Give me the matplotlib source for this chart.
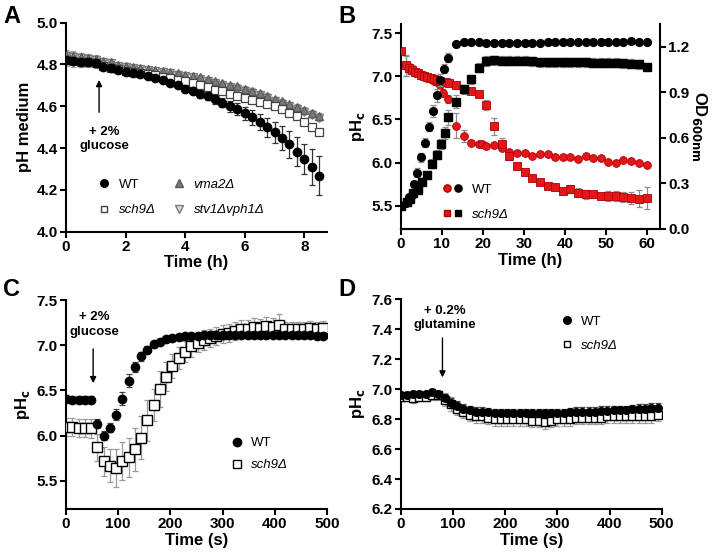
import numpy as np
import matplotlib.pyplot as plt
from matplotlib.legend_handler import HandlerTuple

plt.rcParams['font.family'] = ['Liberation Sans', 'DejaVu Sans']
plt.rcParams['font.weight'] = 'bold'
plt.rcParams['axes.linewidth'] = 1.5

# ---- panel A: medium pH (h) ----
tA = [0, 0.25, 0.5, 0.75, 1.0, 1.25, 1.5, 1.75, 2.0, 2.25, 2.5, 2.75, 3.0, 3.25, 3.5, 3.75, 4.0,
      4.25, 4.5, 4.75, 5.0, 5.25, 5.5, 5.75, 6.0, 6.25, 6.5, 6.75, 7.0, 7.25, 7.5, 7.75, 8.0, 8.25, 8.5]
wtA = [4.82, 4.815, 4.81, 4.81, 4.805, 4.79, 4.785, 4.775, 4.765, 4.76, 4.755, 4.745, 4.735, 4.725,
       4.71, 4.70, 4.685, 4.675, 4.66, 4.648, 4.633, 4.617, 4.60, 4.587, 4.566, 4.547, 4.525, 4.50,
       4.475, 4.45, 4.418, 4.383, 4.35, 4.31, 4.268]
wtA_err = [0.01, 0.01, 0.01, 0.01, 0.01, 0.01, 0.01, 0.01, 0.01, 0.01, 0.01, 0.01, 0.01, 0.012,
           0.012, 0.013, 0.015, 0.016, 0.018, 0.019, 0.02, 0.022, 0.025, 0.028, 0.03, 0.035, 0.04,
           0.045, 0.05, 0.057, 0.065, 0.07, 0.072, 0.085, 0.092]
schA = [4.82, 4.815, 4.81, 4.81, 4.805, 4.795, 4.785, 4.78, 4.77, 4.765, 4.76, 4.755, 4.75, 4.74,
        4.735, 4.728, 4.72, 4.71, 4.70, 4.69, 4.68, 4.672, 4.66, 4.65, 4.64, 4.63, 4.62, 4.61,
        4.60, 4.587, 4.57, 4.554, 4.526, 4.50, 4.478]
vmaA = [4.845, 4.84, 4.835, 4.83, 4.825, 4.815, 4.81, 4.80, 4.795, 4.79, 4.785, 4.78, 4.775, 4.77,
        4.765, 4.758, 4.75, 4.745, 4.738, 4.73, 4.72, 4.712, 4.703, 4.695, 4.685, 4.674, 4.663,
        4.65, 4.634, 4.623, 4.61, 4.598, 4.583, 4.567, 4.555]
stvA = [4.84, 4.835, 4.83, 4.825, 4.82, 4.81, 4.805, 4.795, 4.79, 4.785, 4.78, 4.775, 4.77, 4.765,
        4.76, 4.752, 4.745, 4.738, 4.73, 4.722, 4.712, 4.703, 4.693, 4.684, 4.675, 4.664, 4.653,
        4.64, 4.624, 4.613, 4.60, 4.588, 4.573, 4.557, 4.545]
smallA_err = [0.025, 0.025, 0.02, 0.02, 0.02, 0.015, 0.015, 0.012, 0.012, 0.01, 0.01, 0.01, 0.01,
              0.01, 0.01, 0.01, 0.01, 0.01, 0.01, 0.01, 0.01, 0.01, 0.01, 0.01, 0.012, 0.012, 0.012,
              0.012, 0.012, 0.012, 0.012, 0.012, 0.012, 0.015, 0.015]

# ---- panel B: pHc (left) and OD600 (right) over 60 h ----
t_late = [13.5, 15.4, 17.2, 19.1, 20.9, 22.8, 24.6, 26.5, 28.3, 30.2, 32.1, 33.9, 35.8, 37.6,
          39.5, 41.3, 43.2, 45.1, 46.9, 48.8, 50.6, 52.5, 54.3, 56.2, 58.1, 60.0]
t_wt_ph = [1.2, 2.0, 2.8, 3.5, 4.3, 5.0, 5.8, 6.5, 7.3, 8.0, 8.8, 9.5, 10.4, 11.6,
           13.5, 15.4, 17.2, 19.1, 19.7, 20.9, 22.8, 24.6, 26.5, 28.3, 30.2, 32.1, 33.9, 35.8,
           37.6, 39.5, 41.3, 43.2, 45.1, 46.9, 48.8, 50.6, 52.5, 54.3, 56.2, 58.1, 60.0]
wt_ph = [7.12, 7.10, 7.08, 7.05, 7.04, 7.02, 7.00, 6.98, 6.97, 6.95, 6.93, 6.90, 6.81, 6.74,
         6.43, 6.31, 6.23, 6.21, 6.22, 6.19, 6.20, 6.17, 6.12, 6.11, 6.11, 6.08, 6.10, 6.10,
         6.06, 6.06, 6.06, 6.04, 6.08, 6.05, 6.05, 6.01, 6.00, 6.03, 6.02, 6.00, 5.97]
wt_ph_err = [0.12, 0.05, 0.04, 0.03, 0.03, 0.03, 0.03, 0.03, 0.03, 0.03, 0.03, 0.03, 0.04, 0.05,
             0.14, 0.07, 0.03, 0.03, 0.03, 0.03, 0.03, 0.03, 0.02, 0.02, 0.02, 0.02, 0.02, 0.02,
             0.02, 0.02, 0.02, 0.02, 0.02, 0.02, 0.02, 0.02, 0.02, 0.02, 0.02, 0.02, 0.02]
t_sch_ph = [0, 1.2, 2.0, 2.8, 3.5, 4.3, 5.0, 5.8, 6.5, 7.3, 8.0, 8.8, 9.5, 10.3, 11.0, 11.8] + t_late
sch_ph = [7.30, 7.13, 7.10, 7.08, 7.05, 7.04, 7.02, 7.00, 6.99, 6.98, 6.97, 6.96, 6.95, 6.94, 6.93, 6.92,
          6.90, 6.86, 6.835, 6.80, 6.67, 6.42, 6.22, 6.08, 5.96, 5.89, 5.82, 5.77, 5.73, 5.71, 5.67,
          5.69, 5.65, 5.63, 5.63, 5.61, 5.61, 5.61, 5.60, 5.59, 5.58, 5.59]
sch_ph_err = [0.0, 0.12, 0.06, 0.05, 0.04, 0.03, 0.03, 0.02, 0.02, 0.02, 0.02, 0.02, 0.03, 0.03, 0.03, 0.03,
              0.03, 0.03, 0.03, 0.03, 0.06, 0.10, 0.07, 0.05, 0.03, 0.03, 0.03, 0.03, 0.03, 0.03, 0.03,
              0.05, 0.05, 0.05, 0.04, 0.04, 0.06, 0.06, 0.06, 0.07, 0.10, 0.13]
t_wt_od = [0, 1.2, 2.0, 2.7, 3.3, 4.0, 5.0, 6.0, 6.9, 7.8, 8.8, 9.7, 10.6, 11.6] + t_late
wt_od = [0.154, 0.173, 0.209, 0.224, 0.295, 0.371, 0.473, 0.569, 0.674, 0.78, 0.88, 0.98, 1.055, 1.13,
         1.218, 1.23, 1.23, 1.23, 1.225, 1.225, 1.225, 1.225, 1.225, 1.225, 1.225, 1.225, 1.23, 1.23,
         1.23, 1.23, 1.23, 1.23, 1.235, 1.235, 1.235, 1.235, 1.235, 1.24, 1.235, 1.235]
wt_od_err = [0.01, 0.01, 0.015, 0.015, 0.02, 0.03, 0.03, 0.03, 0.03, 0.04, 0.04, 0.04, 0.03, 0.03] + [0.01] * 26
t_sch_od = [0, 1.5, 2.3, 3.1, 4.3, 5.3, 6.3, 7.7, 8.8, 9.8, 10.8, 11.6] + t_late
sch_od = [0.154, 0.18, 0.20, 0.235, 0.257, 0.31, 0.356, 0.43, 0.49, 0.56, 0.63, 0.736,
          0.84, 0.92, 0.987, 1.063, 1.107, 1.113, 1.11, 1.11, 1.108, 1.108, 1.106, 1.10, 1.10, 1.10,
          1.10, 1.098, 1.098, 1.098, 1.096, 1.096, 1.096, 1.095, 1.093, 1.09, 1.085, 1.066]
sch_od_err = [0.01, 0.01, 0.01, 0.015, 0.015, 0.02, 0.02, 0.03, 0.03, 0.03, 0.04, 0.05,
              0.04] + [0.03] * 24 + [0.02]

# ---- panels C and D: pHc (s), sampled every 12 s ----
tS = [0, 12, 24, 36, 48, 60, 72, 84, 96, 108, 120, 132, 144, 156, 168, 180, 192, 204, 216, 228, 240,
      252, 264, 276, 288, 300, 312, 324, 336, 348, 360, 372, 384, 396, 408, 420, 432, 444, 456, 468,
      480, 492]
wtC = [6.41, 6.40, 6.40, 6.40, 6.40, 6.13, 6.00, 6.09, 6.23, 6.41, 6.61, 6.76, 6.88, 6.95, 7.01,
       7.04, 7.07, 7.08, 7.09, 7.10, 7.10, 7.10, 7.11, 7.11, 7.11, 7.11, 7.11, 7.11, 7.11, 7.11, 7.11,
       7.11, 7.11, 7.11, 7.11, 7.11, 7.11, 7.11, 7.11, 7.11, 7.10, 7.10]
wtC_err = [0.04, 0.04, 0.04, 0.04, 0.04, 0.05, 0.05, 0.05, 0.06, 0.07, 0.07, 0.06, 0.05, 0.04, 0.03,
           0.03, 0.03, 0.02, 0.02, 0.02, 0.02, 0.02, 0.02, 0.02, 0.02, 0.02, 0.02, 0.02, 0.02, 0.02,
           0.02, 0.02, 0.02, 0.02, 0.02, 0.02, 0.02, 0.02, 0.02, 0.02, 0.02, 0.02]
schC = [6.10, 6.10, 6.09, 6.09, 6.08, 5.87, 5.72, 5.67, 5.64, 5.72, 5.76, 5.85, 5.98, 6.17, 6.34,
        6.52, 6.65, 6.77, 6.86, 6.93, 6.99, 7.03, 7.06, 7.08, 7.10, 7.12, 7.14, 7.16, 7.18, 7.18, 7.20,
        7.19, 7.21, 7.20, 7.22, 7.18, 7.18, 7.18, 7.18, 7.19, 7.18, 7.19]
schC_err = [0.10, 0.10, 0.10, 0.10, 0.10, 0.15, 0.16, 0.18, 0.21, 0.21, 0.22, 0.24, 0.24, 0.23, 0.18,
            0.20, 0.16, 0.13, 0.12, 0.12, 0.12, 0.11, 0.11, 0.10, 0.10, 0.10, 0.10, 0.10, 0.10, 0.10,
            0.10, 0.10, 0.10, 0.10, 0.13, 0.08, 0.08, 0.08, 0.08, 0.08, 0.08, 0.08]
wtD = [6.96, 6.96, 6.97, 6.97, 6.97, 6.98, 6.97, 6.94, 6.91, 6.89, 6.87, 6.86, 6.85, 6.85, 6.845,
       6.84, 6.84, 6.84, 6.84, 6.84, 6.84, 6.84, 6.84, 6.84, 6.84, 6.84, 6.84, 6.845, 6.85, 6.85,
       6.85, 6.85, 6.855, 6.855, 6.86, 6.86, 6.86, 6.865, 6.87, 6.87, 6.875, 6.875]
wtD_err = [0.02] * 7 + [0.03] * 35
schD = [6.95, 6.95, 6.94, 6.95, 6.95, 6.96, 6.96, 6.93, 6.90, 6.87, 6.85, 6.83, 6.82, 6.82, 6.81,
        6.80, 6.80, 6.80, 6.80, 6.80, 6.80, 6.79, 6.79, 6.78, 6.79, 6.80, 6.80, 6.80, 6.81, 6.81, 6.81,
        6.81, 6.81, 6.82, 6.82, 6.82, 6.82, 6.82, 6.82, 6.82, 6.82, 6.83]
schD_err = [0.03] * 7 + [0.045] * 35

RED = '#e3161b'
GREY = '#8c8c8c'
W, H = 717, 558


def box(l, t, r, b):
    return [l / W, 1 - b / H, (r - l) / W, (b - t) / H]


def style(ax, right=False):
    ax.spines['top'].set_visible(False)
    if not right:
        ax.spines['right'].set_visible(False)
    ax.tick_params(direction='out', length=4, width=1.5, labelsize=11, pad=2)
    for lab in ax.get_xticklabels() + ax.get_yticklabels():
        lab.set_fontweight('bold')


def eb(ax, x, y, e, ecol, **kw):
    ax.errorbar(x, y, yerr=e, fmt='none', ecolor=ecol, elinewidth=0.9, capsize=2.5, capthick=0.9, zorder=2)
    ax.plot(x, y, ls='none', zorder=3, **kw)


fig = plt.figure(figsize=(7.17, 5.58), dpi=100)
axA = fig.add_axes(box(66, 22.7, 326.7, 231.7))
axB = fig.add_axes(box(400.7, 24, 660, 229))
axB2 = axB.twinx()
axC = fig.add_axes(box(66, 300, 327, 509))
axD = fig.add_axes(box(400.7, 299.3, 661.7, 509))

# A
eb(axA, tA, stvA, smallA_err, '#a0a0a0', marker='v', ms=6, mfc='#d8d8d8', mec='#7a7a7a', mew=0.9)
eb(axA, tA, vmaA, smallA_err, '#a0a0a0', marker='^', ms=6, mfc='#7a7a7a', mec='#5a5a5a', mew=0.9)
eb(axA, tA, schA, smallA_err, '#a0a0a0', marker='s', ms=5.4, mfc='white', mec='#444444', mew=0.9)
eb(axA, tA, wtA, wtA_err, '#333333', marker='o', ms=6, mfc='black', mec='black')
axA.set_xlim(0, 8.75)
axA.set_ylim(4.0, 5.0)
axA.set_xticks([0, 2, 4, 6, 8])
axA.set_yticks(np.arange(4.0, 5.01, 0.2))
axA.yaxis.set_major_formatter(plt.FormatStrFormatter('%.1f'))
axA.set_xlabel('Time (h)', fontsize=12, fontweight='bold', labelpad=1)
axA.set_ylabel('pH medium', fontsize=12, fontweight='bold', labelpad=3)
axA.annotate('', xy=(1.11, 4.739), xytext=(1.11, 4.558),
             arrowprops=dict(arrowstyle='-|>', color='black', lw=1, mutation_scale=9))
axA.text(1.28, 4.445, '+ 2%\nglucose', ha='center', va='center', fontsize=9.5, fontweight='bold',
         linespacing=1.25)
hA = [plt.Line2D([], [], ls='none', marker='o', ms=5.5, mfc='black', mec='black'),
      plt.Line2D([], [], ls='none', marker='s', ms=5, mfc='white', mec='#444444'),
      plt.Line2D([], [], ls='none', marker='^', ms=5.5, mfc='#7a7a7a', mec='#5a5a5a'),
      plt.Line2D([], [], ls='none', marker='v', ms=5.5, mfc='#d8d8d8', mec='#7a7a7a')]
legA = axA.legend(hA, ['WT', 'sch9Δ', 'vma2Δ', 'stv1Δvph1Δ'], ncol=2, loc='upper left',
                  bbox_to_anchor=(0.095, 0.285), frameon=False, borderpad=0, handlelength=1,
                  handletextpad=0.6, labelspacing=1.0, columnspacing=1.3,
                  prop={'size': 9.5, 'weight': 'normal'})
for i, txt in enumerate(legA.get_texts()):
    if i > 0:
        txt.set_fontstyle('italic')

# B
eb(axB, t_wt_ph, wt_ph, wt_ph_err, GREY, marker='o', ms=5.6, mfc=RED, mec='#b00000', mew=0.6)
eb(axB, t_sch_ph, sch_ph, sch_ph_err, GREY, marker='s', ms=5.3, mfc=RED, mec='#b00000', mew=0.6)
eb(axB2, t_wt_od, wt_od, wt_od_err, GREY, marker='o', ms=5.6, mfc='black', mec='black')
eb(axB2, t_sch_od, sch_od, sch_od_err, GREY, marker='s', ms=5.3, mfc='black', mec='black')
axB.set_xlim(0, 63.2)
axB.set_ylim(5.227, 7.61)
axB2.set_ylim(0, 1.351)
axB.set_xticks([0, 10, 20, 30, 40, 50, 60])
axB.set_yticks([5.5, 6.0, 6.5, 7.0, 7.5])
axB2.set_yticks([0.0, 0.3, 0.6, 0.9, 1.2])
axB.yaxis.set_major_formatter(plt.FormatStrFormatter('%.1f'))
axB2.yaxis.set_major_formatter(plt.FormatStrFormatter('%.1f'))
axB.set_xlabel('Time (h)', fontsize=12, fontweight='bold', labelpad=1)
axB.set_ylabel(r'pH$_\mathbf{c}$', fontsize=12, fontweight='bold', labelpad=3)
axB2.set_ylabel(r'OD$_\mathbf{600nm}$', fontsize=12, fontweight='bold', rotation=270, labelpad=14)
style(axB)
style(axB2, right=True)
axB2.spines['left'].set_visible(False)
hB = [(plt.Line2D([], [], ls='none', marker='o', ms=5.2, mfc=RED, mec='#b00000'),
       plt.Line2D([], [], ls='none', marker='o', ms=5.2, mfc='black', mec='black')),
      (plt.Line2D([], [], ls='none', marker='s', ms=5, mfc=RED, mec='#b00000'),
       plt.Line2D([], [], ls='none', marker='s', ms=5, mfc='black', mec='black'))]
legB = axB2.legend(hB, ['WT', 'sch9Δ'], loc='upper left', bbox_to_anchor=(0.132, 0.254),
                   frameon=False, borderpad=0, handlelength=1.7, handletextpad=0.6,
                   labelspacing=0.95, prop={'size': 9.5, 'weight': 'normal'},
                   handler_map={tuple: HandlerTuple(ndivide=None, pad=0)})
legB.get_texts()[1].set_fontstyle('italic')

# C
eb(axC, tS, schC, schC_err, '#999999', marker='s', ms=6.5, mfc='white', mec='black', mew=1)
eb(axC, tS, wtC, wtC_err, '#444444', marker='o', ms=6, mfc='black', mec='black')
axC.set_xlim(0, 500)
axC.set_ylim(5.19, 7.5)
axC.set_xticks([0, 100, 200, 300, 400, 500])
axC.set_yticks([5.5, 6.0, 6.5, 7.0, 7.5])
axC.yaxis.set_major_formatter(plt.FormatStrFormatter('%.1f'))
axC.set_xlabel('Time (s)', fontsize=12, fontweight='bold', labelpad=1)
axC.set_ylabel(r'pH$_\mathbf{c}$', fontsize=12, fontweight='bold', labelpad=3)
axC.annotate('', xy=(52, 6.55), xytext=(52, 6.99),
             arrowprops=dict(arrowstyle='-|>', color='black', lw=1, mutation_scale=9))
axC.text(54, 7.23, '+ 2%\nglucose', ha='center', va='center', fontsize=9.5, fontweight='bold',
         linespacing=1.25)
hC = [plt.Line2D([], [], ls='none', marker='o', ms=6, mfc='black', mec='black'),
      plt.Line2D([], [], ls='none', marker='s', ms=5.5, mfc='white', mec='black')]
legC = axC.legend(hC, ['WT', 'sch9Δ'], loc='upper left', bbox_to_anchor=(0.603, 0.376),
                  frameon=False, borderpad=0, handlelength=1, handletextpad=0.6,
                  labelspacing=0.75, prop={'size': 9.5, 'weight': 'normal'})
legC.get_texts()[1].set_fontstyle('italic')

# D
eb(axD, tS, schD, schD_err, '#999999', marker='s', ms=5.2, mfc='white', mec='black', mew=1)
eb(axD, tS, wtD, wtD_err, '#444444', marker='o', ms=5.5, mfc='black', mec='black')
axD.set_xlim(0, 500)
axD.set_ylim(6.2, 7.6)
axD.set_xticks([0, 100, 200, 300, 400, 500])
axD.set_yticks(np.arange(6.2, 7.61, 0.2))
axD.yaxis.set_major_formatter(plt.FormatStrFormatter('%.1f'))
axD.set_xlabel('Time (s)', fontsize=12, fontweight='bold', labelpad=1)
axD.set_ylabel(r'pH$_\mathbf{c}$', fontsize=12, fontweight='bold', labelpad=3)
axD.annotate('', xy=(80, 7.06), xytext=(80, 7.36),
             arrowprops=dict(arrowstyle='-|>', color='black', lw=1, mutation_scale=9))
axD.text(85, 7.475, '+ 0.2%\nglutamine', ha='center', va='center', fontsize=9.5, fontweight='bold',
         linespacing=1.25)
hD = [plt.Line2D([], [], ls='none', marker='o', ms=5.5, mfc='black', mec='black'),
      plt.Line2D([], [], ls='none', marker='s', ms=5, mfc='white', mec='black')]
legD = axD.legend(hD, ['WT', 'sch9Δ'], loc='upper left', bbox_to_anchor=(0.585, 0.955),
                  frameon=False, borderpad=0, handlelength=1, handletextpad=0.6,
                  labelspacing=0.9, prop={'size': 9.5, 'weight': 'normal'})
legD.get_texts()[1].set_fontstyle('italic')

for ax in (axA, axC, axD):
    style(ax)

for lab, x, y in [('A', 3, 5), ('B', 338, 5), ('C', 3, 278), ('D', 338, 278)]:
    fig.text(x / W, 1 - y / H, lab, fontsize=17, fontweight='bold', va='top', ha='left')

fig.savefig('out.png', dpi=100)
